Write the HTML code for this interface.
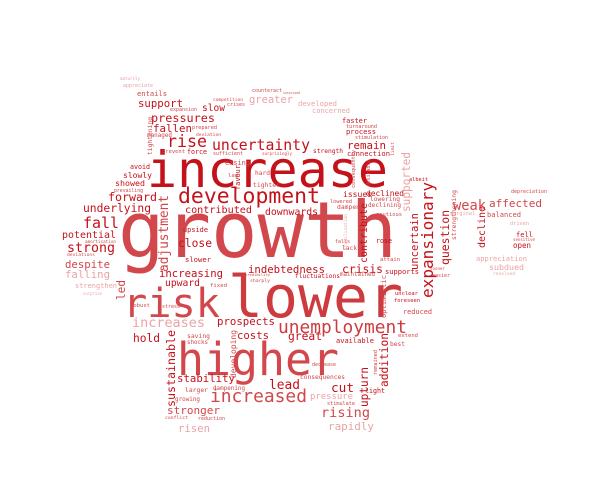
<!DOCTYPE html>
<html><head><meta charset="utf-8"><title>Word cloud</title>
<style>
html,body{margin:0;padding:0;background:#fff;}
#chart{position:absolute;left:0;top:0;width:597px;height:493px;}
text{font-family:"DejaVu Sans Mono","Liberation Mono",monospace;}
</style></head>
<body>
<svg id="chart" width="597" height="493" viewBox="0 0 597 493" xmlns="http://www.w3.org/2000/svg"></svg>
<script>
// words: text, x, baseline y, font size (unused: derived from length), length, colour key, rotated
const words = [
["increase",147,187,48,241,"D",0],
["growth",118,257,72,279,"M",0],
["risk",123,317,50,97,"M",0],
["lower",228,317,58,175,"N",0],
["higher",177,375,52,162,"M",0],
["development",178,203,24,142,"D",0],
["uncertainty",212,150,20,98,"D",0],
["rise",167,147,24,40,"D",0],
["pressures",151,122,18,64,"D",0],
["fallen",153,132,15,39,"D",0],
["support",138,107,16,45,"D",0],
["slow",202,111,14,23,"D",0],
["greater",249,103,14,44,"L",0],
["developed",298,106,11,39,"L",0],
["concerned",312,113,11,38,"L",0],
["entails",137,96,11,30,"M",0],
["appreciate",123,87,8,30,"L",0],
["maturity",120,80,6,20,"L",0],
["counteract",252,92,8,30,"M",0],
["surprised",283,94,6,17,"M",0],
["competition",213,101,8,30,"M",0],
["crises",227,106,8,18,"M",0],
["expansion",170,111,7,27,"M",0],
["prepared",192,129,8,25,"M",0],
["deviation",196,136,8,25,"M",0],
["managed",147,137,7,25,"M",0],
["prevent",162,153,8,23,"M",0],
["force",187,154,11,20,"D",0],
["sufficient",213,155,8,30,"M",0],
["surprisingly",262,155,8,30,"M",0],
["strength",313,153,10,30,"D",0],
["remain",347,149,16,39,"D",0],
["faster",342,123,11,25,"D",0],
["turnaround",346,128,8,31,"M",0],
["process",346,134,11,30,"D",0],
["stimulation",355,139,7,33,"M",0],
["connection",347,156,11,43,"D",0],
["avoid",130,169,11,20,"D",0],
["slowly",123,178,11,29,"D",0],
["showed",115,186,11,30,"D",0],
["prevailing",114,192,9,29,"M",0],
["easing",225,165,8,25,"M",0],
["lag",228,177,8,10,"M",0],
["hard",255,175,9,15,"M",0],
["tighter",253,187,10,27,"M",0],
["forward",108,201,16,49,"D",0],
["underlying",83,212,16,68,"D",0],
["fall",83,228,18,36,"D",0],
["potential",62,238,16,54,"D",0],
["strong",67,252,20,48,"D",0],
["amortisation",85,243,7,31,"M",0],
["deviations",67,256,7,28,"M",0],
["despite",65,268,16,45,"M",0],
["falling",65,278,16,45,"L",0],
["strengthen",75,288,10,42,"L",0],
["surprise",83,295,7,19,"L",0],
["contributed",185,213,14,67,"D",0],
["downwards",265,215,14,53,"D",0],
["close",178,247,16,34,"D",0],
["upside",183,232,10,25,"D",0],
["increasing",159,277,16,64,"D",0],
["slower",185,262,12,26,"D",0],
["indebtedness",248,273,16,77,"D",0],
["fluctuations",295,278,11,45,"D",0],
["upward",165,286,13,35,"D",0],
["fixed",210,287,10,17,"M",0],
["credibility",245,276,8,25,"M",0],
["sharply",250,282,8,20,"M",0],
["robust",130,307,9,20,"M",0],
["stress",162,308,9,18,"M",0],
["increases",132,327,18,73,"L",0],
["prospects",217,325,16,58,"D",0],
["unemployment",278,333,22,129,"N",0],
["hold",133,342,15,27,"D",0],
["costs",237,339,16,32,"D",0],
["great",288,340,15,34,"D",0],
["available",336,343,11,38,"D",0],
["saving",187,338,10,23,"M",0],
["shocks",187,344,9,21,"M",0],
["stability",177,382,16,58,"D",0],
["lead",269,389,17,31,"D",0],
["larger",185,392,10,23,"M",0],
["dampening",213,390,9,32,"M",0],
["growing",175,401,10,25,"M",0],
["increased",210,402,26,97,"M",0],
["pressure",310,399,16,43,"L",0],
["stronger",167,414,16,53,"M",0],
["conflict",165,419,8,23,"M",0],
["reduction",198,420,8,27,"M",0],
["risen",178,432,16,32,"L",0],
["rising",321,417,18,49,"M",0],
["rapidly",328,430,16,46,"L",0],
["stimulate",327,405,8,28,"M",0],
["cut",331,392,20,23,"D",0],
["light",365,393,11,20,"D",0],
["best",390,346,10,15,"M",0],
["extend",398,337,8,20,"M",0],
["unclear",395,295,9,23,"D",0],
["foreseen",394,302,9,26,"D",0],
["reduced",403,314,12,29,"M",0],
["supports",385,274,11,34,"D",0],
["maintained",340,276,9,35,"M",0],
["sooner",430,270,8,15,"M",0],
["easier",432,277,8,18,"M",0],
["consequences",300,379,10,45,"M",0],
["decrease",312,366,9,24,"M",0],
["rose",376,243,11,16,"D",0],
["falls",335,243,8,15,"M",0],
["lack",342,250,8,15,"M",0],
["attain",380,261,8,20,"M",0],
["issues",343,197,11,29,"D",0],
["declined",366,196,12,38,"D",0],
["lowering",370,201,8,30,"M",0],
["declining",368,207,9,33,"M",0],
["dampen",337,209,8,23,"M",0],
["lowered",330,203,8,22,"M",0],
["cautious",376,216,9,26,"M",0],
["crisis",342,273,18,41,"D",0],
["weak",453,210,20,33,"M",0],
["affected",489,207,18,53,"M",0],
["depreciation",511,193,9,36,"M",0],
["balanced",487,217,12,34,"M",0],
["driven",510,225,9,19,"L",0],
["fell",516,237,13,17,"D",0],
["sensitive",513,241,6,22,"M",0],
["open",513,248,11,18,"D",0],
["marginal",450,215,8,25,"L",0],
["albeit",409,181,9,19,"D",0],
["appreciation",476,261,13,51,"L",0],
["subdued",489,270,12,35,"L",0],
["resolved",493,275,6,22,"L",0],
["decline",485,248,16,42,"D",1],
["strengthening",456,240,9,50,"M",1],
["question",449,265,15,55,"D",1],
["uncertain",418,270,14,57,"D",1],
["contribute",367,263,14,60,"D",1],
["expansionary",433,298,22,116,"D",1],
["supported",410,212,14,60,"L",1],
["consequently",355,188,8,38,"M",1],
["desirable",370,186,8,26,"M",1],
["limit",394,156,7,14,"M",1],
["stabilisation",347,250,7,36,"L",1],
["adjustment",168,272,14,77,"M",1],
["led",125,300,14,20,"M",1],
["tightening",152,155,9,38,"M",1],
["favour",240,190,10,25,"D",1],
["sustainable",175,407,14,77,"D",1],
["developing",236,378,11,48,"M",1],
["upturn",368,407,14,40,"D",1],
["remained",377,375,9,25,"M",1],
["addition",388,387,16,54,"D",1],
["optimistic",386,318,10,43,"M",1]
];
const colours = {D:"#c5111a", M:"#d2474b", N:"#cd3b3f", L:"#eba3a5"};
const svg = document.getElementById('chart');
const NS = "http://www.w3.org/2000/svg";
words.forEach(w => {
  const t = document.createElementNS(NS, 'text');
  
  
  const fs = w[4] / (w[0].length * 0.6);
  t.setAttribute('font-size', fs.toFixed(2));
  t.setAttribute('fill', colours[w[5]]);
  t.setAttribute('textLength', w[4]);
  t.setAttribute('lengthAdjust', 'spacingAndGlyphs');
  if (w[6]) {
    t.setAttribute('x', 0); t.setAttribute('y', 0);
    t.setAttribute('transform', 'translate(' + w[1] + ',' + w[2] + ') rotate(-90)');
  } else {
    t.setAttribute('x', w[1]); t.setAttribute('y', w[2]);
  }
  t.textContent = w[0];
  svg.appendChild(t);
});
</script>
</body></html>
